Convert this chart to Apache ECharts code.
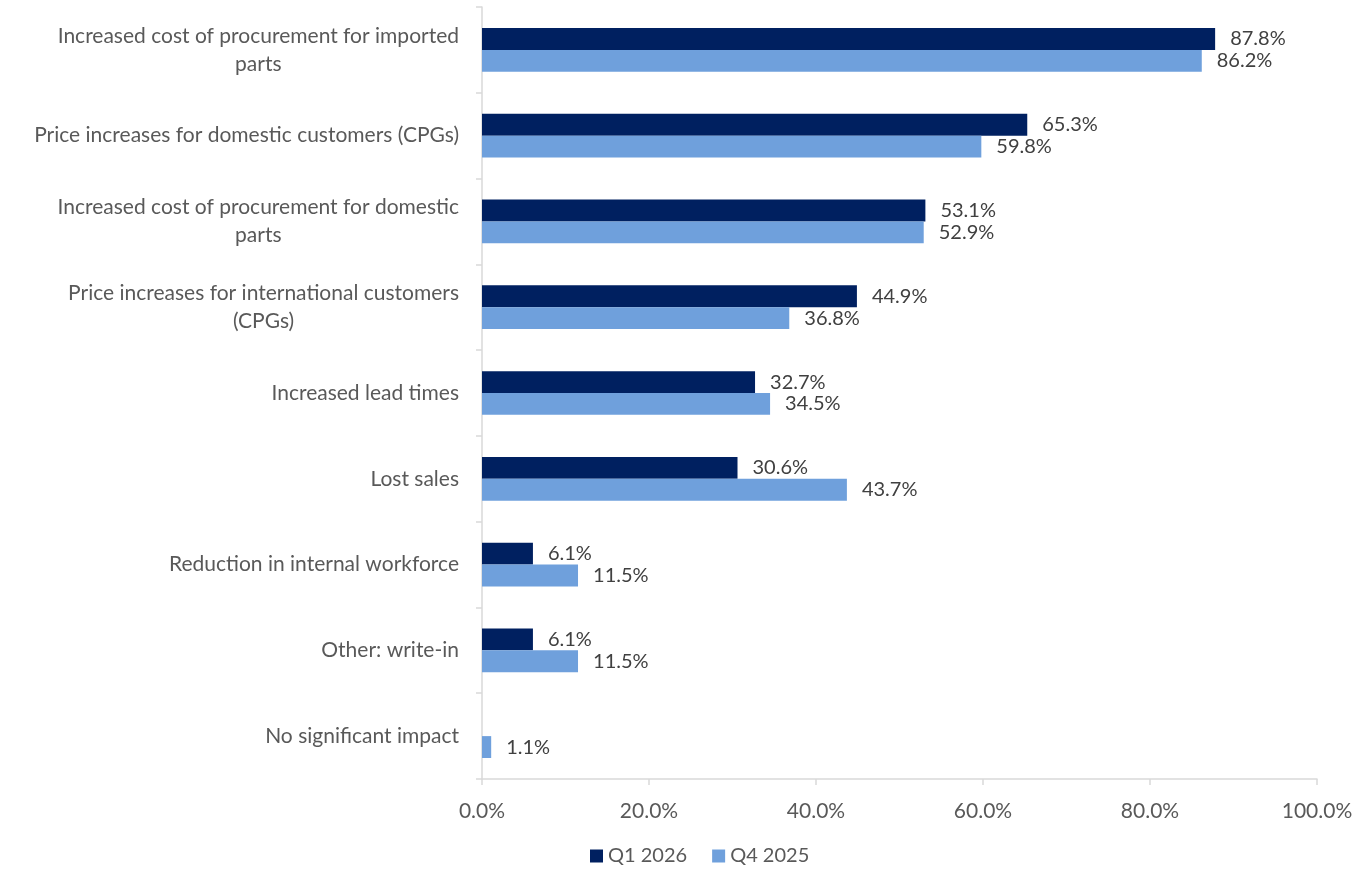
<!DOCTYPE html>
<html>
<head>
<meta charset="utf-8">
<script src="https://cdn.jsdelivr.net/npm/echarts@6/dist/echarts.min.js"></script>
<style>
  html, body { margin: 0; padding: 0; background: #ffffff; }
  #chart { width: 1369px; height: 869px; }
</style>
</head>
<body>
<div id="chart"></div>
<script>
// Impact categories (top to bottom); "\n" marks a line break in the axis label
const categories = [
  'Increased cost of procurement for imported\nparts',
  'Price increases for domestic customers (CPGs)',
  'Increased cost of procurement for domestic\nparts',
  'Price increases for international customers\n(CPGs)',
  'Increased lead times',
  'Lost sales',
  'Reduction in internal workforce',
  'Other: write-in',
  'No significant impact'
];

// Share of respondents, in percent
const q1_2026 = [87.8, 65.3, 53.1, 44.9, 32.7, 30.6, 6.1, 6.1, null];
const q4_2025 = [86.2, 59.8, 52.9, 36.8, 34.5, 43.7, 11.5, 11.5, 1.1];

const seriesNames = ['Q1 2026', 'Q4 2025'];
const xTicks = [0, 20, 40, 60, 80, 100];

const FONT = 'Lato, sans-serif';
const AXIS_GRAY = '#d9d9d9';
const TEXT_GRAY = '#595959';

const chart = echarts.init(document.getElementById('chart'), null, { renderer: 'canvas' });

const valueLabel = {
  show: true,
  position: 'right',
  distance: 15,
  color: '#404040',
  fontFamily: FONT,
  fontSize: 20,
  formatter: p => p.value == null ? '' : p.value.toFixed(1) + '%'
};

chart.setOption({
  animation: false,
  backgroundColor: '#ffffff',
  textStyle: { fontFamily: FONT },
  grid: { left: 482, right: 52, top: 7, bottom: 90, containLabel: false },
  legend: {
    data: seriesNames,
    bottom: -2,
    left: 585,
    itemWidth: 13,
    itemHeight: 13,
    itemGap: 25,
    icon: 'rect',
    textStyle: { color: TEXT_GRAY, fontSize: 20, fontFamily: FONT }
  },
  xAxis: {
    type: 'value',
    min: xTicks[0],
    max: xTicks[xTicks.length - 1],
    interval: xTicks[1] - xTicks[0],
    axisLine: { show: true, lineStyle: { color: AXIS_GRAY, width: 1.5 } },
    axisTick: { show: true, length: 6, lineStyle: { color: AXIS_GRAY, width: 1.5 } },
    splitLine: { show: false },
    axisLabel: {
      color: TEXT_GRAY,
      fontSize: 21,
      fontFamily: FONT,
      margin: 22,
      formatter: v => v.toFixed(1) + '%'
    }
  },
  yAxis: {
    type: 'category',
    inverse: true,
    data: categories,
    axisLine: { show: true, lineStyle: { color: AXIS_GRAY, width: 1.5 } },
    axisTick: { show: true, length: 6, lineStyle: { color: AXIS_GRAY, width: 1.5 } },
    axisLabel: {
      color: TEXT_GRAY,
      fontSize: 21,
      fontFamily: FONT,
      margin: 23,
      lineHeight: 28,
      formatter: v => v.split('\n').map(s => '{c|' + s + '}').join('\n'),
      rich: { c: { align: 'center', color: TEXT_GRAY, fontSize: 21, fontFamily: FONT, lineHeight: 28 } }
    }
  },
  series: [
    {
      name: seriesNames[0],
      type: 'bar',
      data: q1_2026,
      itemStyle: { color: '#002060' },
      barGap: '0%',
      barCategoryGap: '49%',
      label: valueLabel
    },
    {
      name: seriesNames[1],
      type: 'bar',
      data: q4_2025,
      itemStyle: { color: '#6fa0dc' },
      barGap: '0%',
      barCategoryGap: '49%',
      label: valueLabel
    }
  ]
});
</script>
</body>
</html>
